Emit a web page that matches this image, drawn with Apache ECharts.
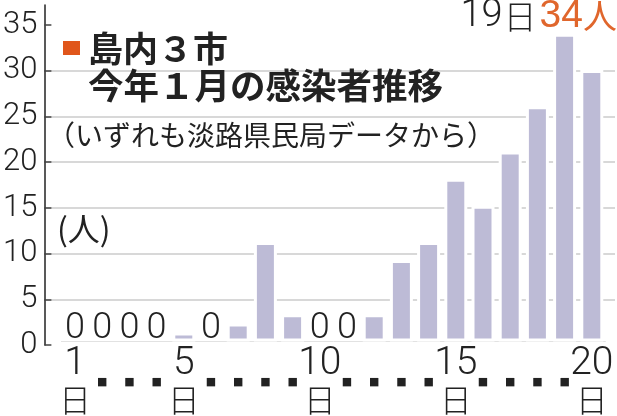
<!DOCTYPE html>
<html><head><meta charset="utf-8">
<script src="https://cdn.jsdelivr.net/npm/echarts@6/dist/echarts.min.js"></script>
<style>html,body{margin:0;padding:0;background:#fff}#c{width:617px;height:416px}</style>
</head><body><div id="c"></div>
<script>
const days = ['1','2','3','4','5','6','7','8','9','10','11','12','13','14','15','16','17','18','19','20'];
const cases = [0,0,0,0,1,0,2,11,3,0,0,3,9,11,18,15,21,26,34,30];
const yTicks = [0,5,10,15,20,25,30,35];
const labeledDays = ['1','5','10','15','20'];
const titleLine1 = '島内３市';
const titleLine2 = '今年１月の感染者推移';
const sourceNote = '（いずれも淡路県民局データから）';
const unitLabel = '(人)';
const peakDay = '19';
const peakValue = '34';

const LIGHT = 'Roboto,"Liberation Sans",sans-serif';
const SANS = '"Liberation Sans",sans-serif';
const CJK = '"Noto Sans CJK JP",sans-serif';
const INK = '#222';

const barData = cases.map(v => v === 0
  ? {value: v, itemStyle: {borderWidth: 0}, label: {show: true}}
  : {value: v});

const chart = echarts.init(document.getElementById('c'));
chart.setOption({
  animation: false,
  backgroundColor: '#fff',
  grid: [
    {left: 43, right: 2, top: 5, bottom: 71},
    {left: 61.4, right: 11.6, top: 5, bottom: 71}
  ],
  xAxis: [
    {gridIndex: 0, type: 'value', show: false, min: 0, max: 1},
    {gridIndex: 1, type: 'category', data: days,
      axisLine: {lineStyle: {color: '#e2e2e2', width: 1}},
      axisTick: {show: false},
      axisLabel: {interval: 0, margin: 5.5,
        formatter: v => labeledDays.includes(v) ? '{n|' + v + '}\n{r|日}' : '{d|■}',
        rich: {
          n: {fontFamily: LIGHT, fontWeight: 300, fontSize: 39, lineHeight: 34, color: INK},
          r: {fontFamily: CJK, fontWeight: 300, fontSize: 32, lineHeight: 38, color: INK},
          d: {fontFamily: '"DejaVu Sans"', fontSize: 11, lineHeight: 71, color: INK}
        }}}
  ],
  yAxis: [
    {gridIndex: 0, type: 'value', min: 0, max: 37.19, interval: 5,
      axisLine: {show: true, lineStyle: {color: INK, width: 1.5}},
      axisTick: {show: true, inside: true, length: 7, customValues: yTicks, lineStyle: {color: '#444', width: 1.5}},
      axisLabel: {customValues: yTicks, fontFamily: LIGHT, fontWeight: 300, fontSize: 31, color: INK, margin: 7},
      splitLine: {show: true, showMaxLine: false, showMinLine: false, lineStyle: {color: '#cbcbcb', width: 1.5}}},
    {gridIndex: 1, type: 'value', min: 0, max: 37.19, interval: 5, show: false, splitLine: {show: false}}
  ],
  title: [
    {text: '{sq| }', left: 63, top: 41, padding: 0,
      textStyle: {rich: {sq: {width: 17, height: 14, backgroundColor: '#e0561b', fontSize: 10}}}},
    {text: titleLine1, left: 88, top: 31, padding: 0,
      textStyle: {fontFamily: CJK, fontSize: 35, fontWeight: 'bold', color: INK, lineHeight: 36}},
    {text: titleLine2, left: 88, top: 68, padding: 0,
      textStyle: {fontFamily: CJK, fontSize: 35.5, fontWeight: 'bold', color: INK, lineHeight: 36}},
    {text: sourceNote, left: 47, top: 120, padding: 0,
      textStyle: {fontFamily: CJK, fontSize: 28, fontWeight: 'normal', color: INK, lineHeight: 30}},
    {text: unitLabel, left: 57, top: 211, padding: 0,
      textStyle: {fontFamily: CJK, fontSize: 32, fontWeight: 'normal', color: INK, lineHeight: 36}},
    {text: '{a|' + peakDay + '}{j|日}{o|' + peakValue + '}{oj|人}', right: 0, top: 0,
      padding: [0, 0, 0, 8], backgroundColor: '#fff',
      textStyle: {fontWeight: 'normal', rich: {
        a: {fontFamily: LIGHT, fontWeight: 300, fontSize: 38, color: INK, lineHeight: 32},
        j: {fontFamily: CJK, fontWeight: 300, fontSize: 33, color: INK, lineHeight: 32, padding: [0, 3, 0, 1]},
        o: {fontFamily: SANS, fontWeight: 'normal', fontSize: 39, color: '#e0662c', lineHeight: 32},
        oj: {fontFamily: CJK, fontWeight: 'normal', fontSize: 34, color: '#e0662c', lineHeight: 32}
      }}}
  ],
  series: [{
    type: 'bar', xAxisIndex: 1, yAxisIndex: 1,
    data: barData, barWidth: 23,
    itemStyle: {color: '#bdbbd6', borderColor: '#fff', borderWidth: 3},
    label: {show: false, position: 'insideBottom', distance: 1, offset: [0, 7], fontFamily: LIGHT, fontWeight: 300, fontSize: 36, color: INK, formatter: '{c}'}
  }]
});
</script></body></html>
